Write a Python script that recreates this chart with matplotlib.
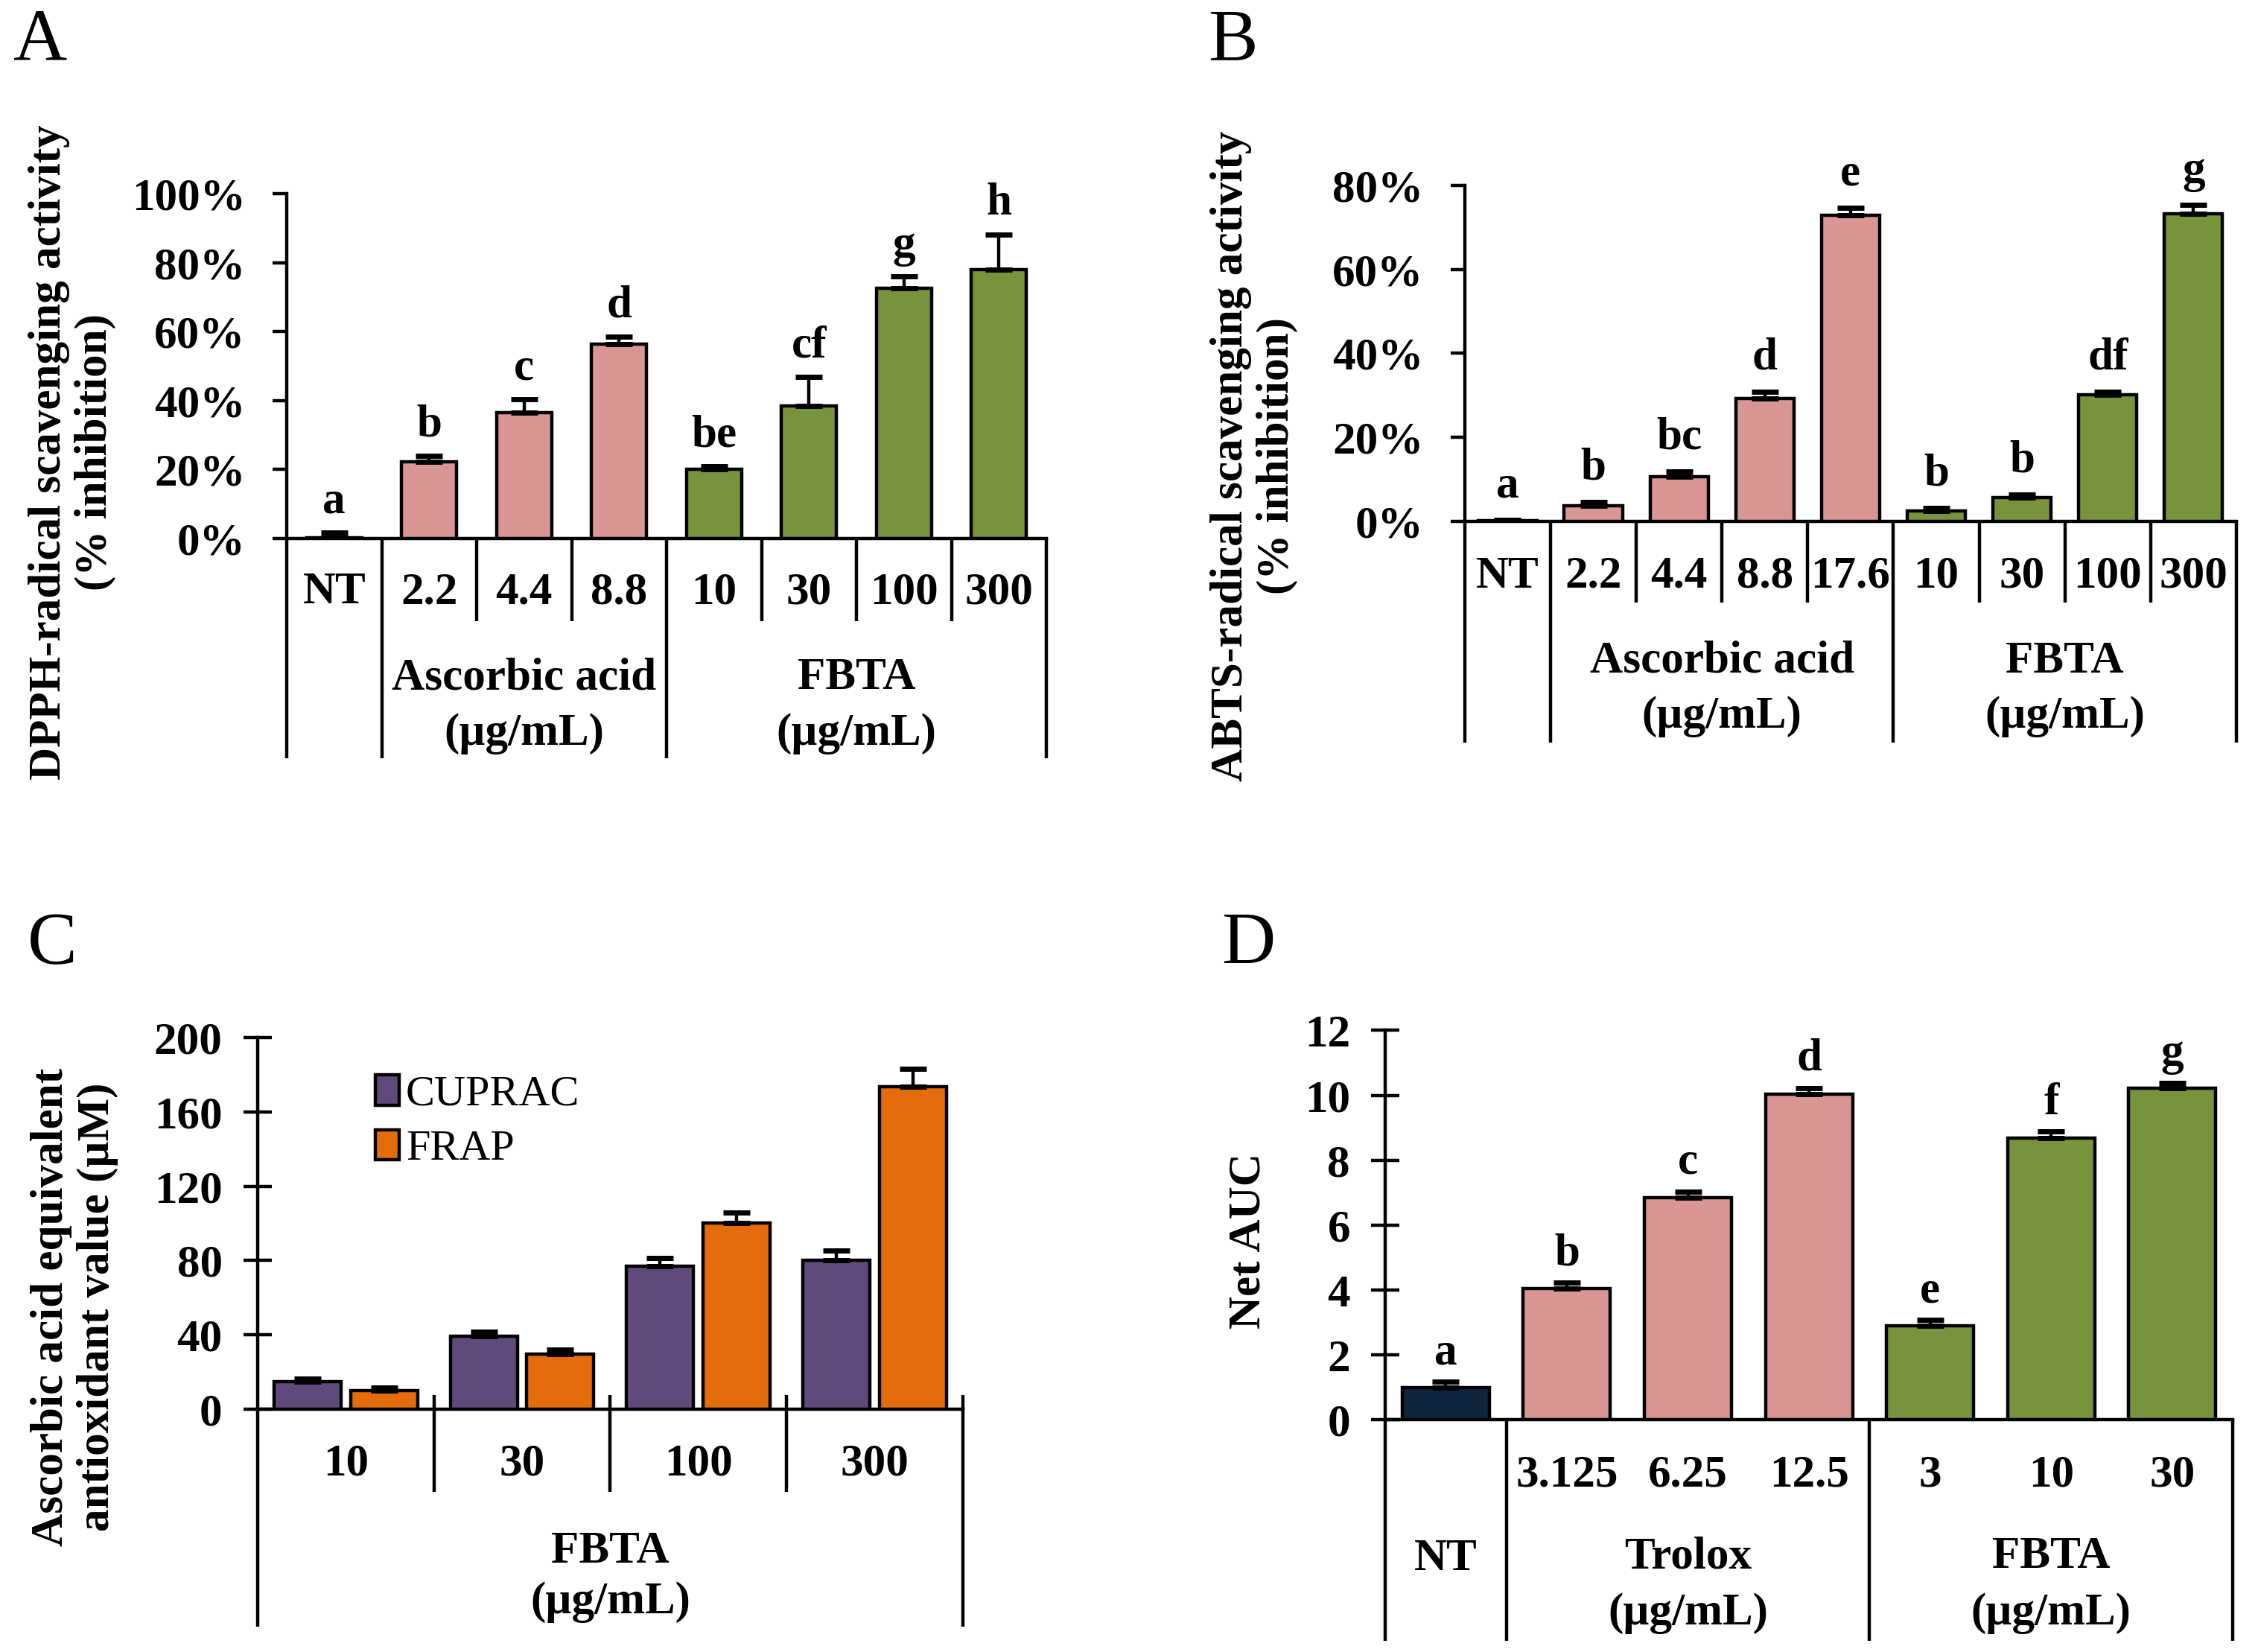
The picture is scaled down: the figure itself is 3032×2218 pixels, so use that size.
import numpy as np
import matplotlib.pyplot as plt
from matplotlib.patches import Patch
from matplotlib.ticker import PercentFormatter

plt.rcParams['font.family'] = ['Liberation Serif', 'DejaVu Serif']

# ---- data ----
# A: DPPH
a_labels = ['NT', '2.2', '4.4', '8.8', '10', '30', '100', '300']
a_groups = ['NT', 'ref', 'ref', 'ref', 'fbta', 'fbta', 'fbta', 'fbta']
a_values = [0.3, 22.3, 36.4, 56.4, 20.0, 38.5, 72.5, 78.0]
a_errors = [1.5, 1.7, 4.0, 2.2, 1.0, 8.3, 3.5, 10.2]
a_letters = ['a', 'b', 'c', 'd', 'be', 'cf', 'g', 'h']

# B: ABTS
b_labels = ['NT', '2.2', '4.4', '8.8', '17.6', '10', '30', '100', '300']
b_groups = ['NT', 'ref', 'ref', 'ref', 'ref', 'fbta', 'fbta', 'fbta', 'fbta']
b_values = [0.2, 3.6, 10.6, 29.2, 72.9, 2.4, 5.6, 30.1, 73.3]
b_errors = [0.1, 1.0, 1.2, 1.6, 1.8, 0.8, 0.7, 0.7, 2.0]
b_letters = ['a', 'b', 'bc', 'd', 'e', 'b', 'b', 'df', 'g']

# C: CUPRAC / FRAP
c_labels = ['10', '30', '100', '300']
c_cuprac = [14.8, 39.3, 76.9, 80.2]
c_cuprac_err = [1.7, 2.5, 4.4, 5.0]
c_frap = [10.2, 29.7, 100.3, 173.4]
c_frap_err = [1.3, 2.2, 5.5, 9.6]

# D: ORAC
d_labels = ['', '3.125', '6.25', '12.5', '3', '10', '30']
d_groups = ['NT', 'ref', 'ref', 'ref', 'fbta', 'fbta', 'fbta']
d_values = [0.99, 4.05, 6.84, 10.04, 2.89, 8.69, 10.21]
d_errors = [0.19, 0.17, 0.20, 0.19, 0.20, 0.19, 0.17]
d_letters = ['a', 'b', 'c', 'd', 'e', 'f', 'g']

group_colors = {'NT': '#10243E', 'ref': '#D99694', 'fbta': '#77933C'}
FS = 44
LW = 3.2


def style_axes(ax, tickdir='out'):
    for s in ['top', 'right']:
        ax.spines[s].set_visible(False)
    for s in ['left', 'bottom']:
        ax.spines[s].set_linewidth(LW)
    ax.set_xticks([])
    ax.tick_params(axis='y', direction=tickdir, length=14, width=LW,
                   pad=26, labelsize=FS)
    for t in ax.get_yticklabels():
        t.set_fontweight('bold')


def bars(ax, x, values, errors, colors, width):
    ax.bar(x, values, width=width, color=colors, edgecolor='black',
           linewidth=LW, zorder=3)
    ax.errorbar(x, values, yerr=[np.zeros(len(values)), errors], fmt='none',
                ecolor='black', elinewidth=LW, capsize=13, capthick=5,
                zorder=4)


def letters(ax, x, values, errors, marks, off):
    for xi, v, e, m in zip(x, values, errors, marks):
        ax.annotate(m, xy=(xi, v + e), xytext=(0, off),
                    textcoords='offset points', ha='center', va='baseline',
                    fontsize=FS, fontweight='bold')


def vlines(ax, xs, y0, y1):
    tr = ax.get_xaxis_transform()
    for xv in xs:
        ax.plot([xv, xv], [y0, y1], color='black', lw=LW, transform=tr,
                clip_on=False, solid_capstyle='butt')


def btext(ax, x, y, s):
    ax.text(x, y, s, transform=ax.get_xaxis_transform(), ha='center',
            va='center', fontsize=FS, fontweight='bold')


fig = plt.figure(figsize=(30.32, 22.18), dpi=100)

# ---- A ----
axA = fig.add_axes([0.127, 0.6740, 0.3364, 0.2088])
xa = np.arange(len(a_values))
bars(axA, xa, a_values, a_errors, [group_colors[g] for g in a_groups], 0.58)
letters(axA, xa, a_values, a_errors, a_letters, 19)
axA.set_xlim(-0.5, len(a_values) - 0.5)
axA.set_ylim(0, 100)
axA.set_yticks(np.arange(0, 101, 20))
axA.yaxis.set_major_formatter(PercentFormatter(decimals=0))
style_axes(axA)
vlines(axA, [1.5, 2.5, 4.5, 5.5, 6.5], 0, -0.240)
vlines(axA, [-0.5, 0.5, 3.5, 7.5], 0, -0.637)
for xi, lab in zip(xa, a_labels):
    btext(axA, xi, -0.156, lab)
btext(axA, 2, -0.404, 'Ascorbic acid')
btext(axA, 2, -0.566, '(µg/mL)')
btext(axA, 5.5, -0.404, 'FBTA')
btext(axA, 5.5, -0.566, '(µg/mL)')
fig.text(0.032, 0.7263, 'DPPH-radical scavenging activity\n(% inhibition)',
         rotation=90, ha='center', va='center', fontsize=FS,
         fontweight='bold', multialignment='center', linespacing=1.15)

# ---- B ----
axB = fig.add_axes([0.6487, 0.6845, 0.3417, 0.2033])
xb = np.arange(len(b_values))
bars(axB, xb, b_values, b_errors, [group_colors[g] for g in b_groups], 0.68)
letters(axB, xb, b_values, b_errors, b_letters, 22)
axB.set_xlim(-0.5, len(b_values) - 0.5)
axB.set_ylim(0, 80)
axB.set_yticks(np.arange(0, 81, 20))
axB.yaxis.set_major_formatter(PercentFormatter(decimals=0))
style_axes(axB)
vlines(axB, [1.5, 2.5, 3.5, 5.5, 6.5, 7.5], 0, -0.242)
vlines(axB, [-0.5, 0.5, 4.5, 8.5], 0, -0.659)
for xi, lab in zip(xb, b_labels):
    btext(axB, xi, -0.164, lab)
btext(axB, 2.5, -0.417, 'Ascorbic acid')
btext(axB, 2.5, -0.581, '(µg/mL)')
btext(axB, 6.5, -0.417, 'FBTA')
btext(axB, 6.5, -0.581, '(µg/mL)')
fig.text(0.5554, 0.7241, 'ABTS-radical scavenging activity\n(% inhibition)',
         rotation=90, ha='center', va='center', fontsize=FS,
         fontweight='bold', multialignment='center', linespacing=1.15)

# ---- C ----
axC = fig.add_axes([0.1141, 0.1470, 0.3123, 0.225])
xc = np.arange(len(c_labels))
bw = 0.38
bars(axC, xc - 0.217, c_cuprac, c_cuprac_err, '#604A7B', bw)
bars(axC, xc + 0.217, c_frap, c_frap_err, '#E46C0A', bw)
axC.set_xlim(-0.5, len(c_labels) - 0.5)
axC.set_ylim(0, 200)
axC.set_yticks(np.arange(0, 201, 40))
style_axes(axC, 'inout')
axC.tick_params(axis='y', length=28, pad=20)
vlines(axC, [0.5, 1.5, 2.5], 0.038, -0.222)
vlines(axC, [-0.5], 0, -0.585)
vlines(axC, [3.5], 0.038, -0.585)
for xi, lab in zip(xc, c_labels):
    btext(axC, xi, -0.148, lab)
btext(axC, 1.5, -0.383, 'FBTA')
btext(axC, 1.5, -0.519, '(µg/mL)')
handles = [Patch(facecolor='#604A7B', edgecolor='black', lw=LW),
           Patch(facecolor='#E46C0A', edgecolor='black', lw=LW)]
axC.legend(handles, ['CUPRAC', 'FRAP'], loc='upper left',
           bbox_to_anchor=(0.167, 0.90), frameon=False,
           prop={'size': 42}, handlelength=0.55, handleheight=0.7,
           handletextpad=0.15, labelspacing=0.36, borderpad=0,
           borderaxespad=0)
fig.text(0.033, 0.2087, 'Ascorbic acid equivalent\nantioxidant value (µM)',
         rotation=90, ha='center', va='center', fontsize=FS,
         fontweight='bold', multialignment='center', linespacing=1.15)

# ---- D ----
axD = fig.add_axes([0.6135, 0.1405, 0.3753, 0.2358])
xd = np.arange(len(d_values))
bars(axD, xd, d_values, d_errors, [group_colors[g] for g in d_groups], 0.72)
letters(axD, xd, d_values, d_errors, d_letters, 17)
axD.set_xlim(-0.5, len(d_values) - 0.5)
axD.set_ylim(0, 12)
axD.set_yticks(np.arange(0, 13, 2))
style_axes(axD, 'inout')
axD.tick_params(axis='y', length=28, pad=20)
vlines(axD, [-0.5, 0.5, 3.5, 6.5], 0, -0.568)
for xi, lab in zip(xd, d_labels):
    btext(axD, xi, -0.141, lab)
btext(axD, 0, -0.356, 'NT')
btext(axD, 2, -0.352, 'Trolox')
btext(axD, 2, -0.497, '(µg/mL)')
btext(axD, 5, -0.352, 'FBTA')
btext(axD, 5, -0.497, '(µg/mL)')
fig.text(0.5528, 0.2489, 'Net AUC', rotation=90, ha='center', va='center',
         fontsize=FS, fontweight='bold')

# panel letters
for px, py, s in [(0.006, 0.995, 'A'), (0.535, 0.995, 'B'),
                  (0.012, 0.448, 'C'), (0.541, 0.448, 'D')]:
    fig.text(px, py, s, fontsize=72, ha='left', va='top')

fig.savefig('out.png', dpi=100)
